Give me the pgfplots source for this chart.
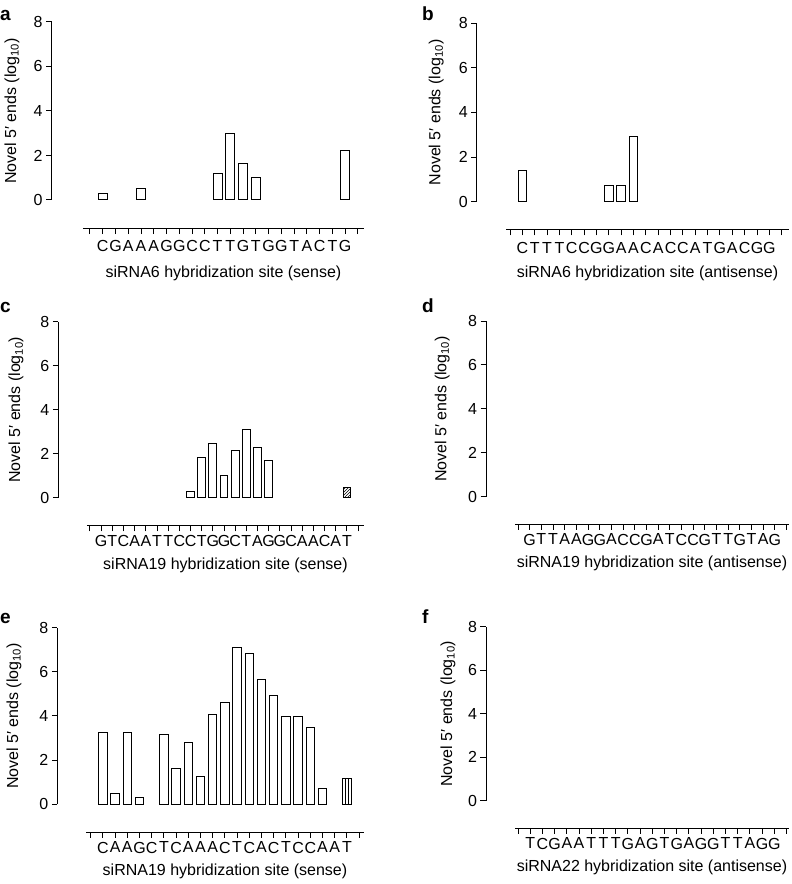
\documentclass[border=0pt]{standalone}
\usepackage{fontspec}
\setmainfont{Liberation Sans}
\usepackage{pgfplots}
\pgfplotsset{compat=1.18}
\usetikzlibrary{patterns}

\pgfplotsset{
  panel/.style={
    axis x line*=bottom, axis y line*=left,
    ymin=0, ymax=8, ytick={0,2,4,6,8},
    tick align=outside, major tick length=5.5pt,
    every tick/.style={black, line width=1pt},
    axis line style={black, line width=1pt},
    clip=false,
    ybar, bar shift=0pt, bar width=0.7,
    /pgf/number format/assume math mode=true,
    ticklabel style={font=\fontsize{16}{19}\selectfont},
    label style={font=\fontsize{16}{19}\selectfont},
    ylabel={Novel 5′ ends (log\textsubscript{10})},
    anchor=origin,
  },
  bars/.style={draw=black, fill=white, line width=1pt},
}
\newcommand\plab[1]{{\fontsize{19}{19}\selectfont\bfseries #1}}

\begin{document}
\begin{tikzpicture}
\useasboundingbox (0pt,0pt) rectangle (792pt,884pt);

% a
\begin{axis}[panel, at={(90pt,684pt)}, x=12.76pt, y=22.25pt,
  xmin=-0.55, xmax=21.47,
  axis x line shift=28.7pt, axis y line shift=31.3pt,
  xtick={0,...,21}, xticklabel style={yshift=-3pt},
  xticklabels={{},C,G,A,A,A,G,G,C,C,T,T,G,T,G,G,T,A,C,T,G,{}},
  xlabel={siRNA6 hybridization site (sense)},
  xlabel style={at={(axis description cs:0.5,-0.41)}, anchor=center},
  ylabel style={at={(axis description cs:-0.2527,0.5)}, anchor=center}]
\addplot[bars] coordinates {(1,0.30) (4,0.50) (10,1.20) (11,2.97) (12,1.62) (13,1.00) (20,2.22)};
\end{axis}

% b
\begin{axis}[panel, at={(510pt,682.3pt)}, x=12.35pt, y=22.3pt,
  xmin=-0.32, xmax=22.59,
  axis x line shift=28.3pt, axis y line shift=29.3pt,
  xtick={0,...,22}, xticklabel style={yshift=-3pt},
  xticklabels={{},C,T,T,T,C,C,G,G,A,A,C,A,C,C,A,T,G,A,C,G,G,{}},
  xlabel={siRNA6 hybridization site (antisense)},
  xlabel style={at={(axis description cs:0.5,-0.40)}, anchor=center},
  ylabel style={at={(axis description cs:-0.247,0.5)}, anchor=center}]
\addplot[bars] coordinates {(1,1.42) (8,0.72) (9,0.72) (10,2.91)};
\end{axis}

% c
\begin{axis}[panel, at={(90pt,386.3pt)}, x=11.17pt, y=22pt,
  xmin=-0.27, xmax=24.53,
  axis x line shift=28.3pt, axis y line shift=28.7pt,
  xtick={0,...,24}, xticklabel style={yshift=-0.5pt},
  xticklabels={{},G,T,C,A,A,T,T,C,C,T,G,G,C,T,A,G,G,C,A,A,C,A,T,{}},
  xlabel={siRNA19 hybridization site (sense)},
  xlabel style={at={(axis description cs:0.5,-0.382)}, anchor=center},
  ylabel style={at={(axis description cs:-0.256,0.5)}, anchor=center}]
\addplot[bars] coordinates {(9,0.29) (10,1.82) (11,2.45) (12,1.00) (13,2.15) (14,3.10) (15,2.29) (16,1.68)};
\addplot[bars, pattern=north east lines] coordinates {(23,0.47)};
\end{axis}

% d
\begin{axis}[panel, at={(518pt,387.3pt)}, x=11.68pt, y=21.96pt,
  xmin=-0.257, xmax=23.2,
  axis x line shift=27.6pt, axis y line shift=29pt,
  xtick={0,...,23}, xticklabel style={yshift=-0.5pt},
  xticklabels={{},G,T,T,A,A,G,G,A,C,C,G,A,T,C,C,G,T,T,G,T,A,G,{}},
  xlabel={siRNA19 hybridization site (antisense)},
  xlabel style={at={(axis description cs:0.5,-0.38)}, anchor=center},
  ylabel style={at={(axis description cs:-0.266,0.5)}, anchor=center}]
\addplot[draw=none, forget plot] coordinates {(0,0)};
\end{axis}

% e
\begin{axis}[panel, at={(90.7pt,79.7pt)}, x=12.2pt, y=22.08pt,
  xmin=-0.385, xmax=22.4,
  axis x line shift=28pt, axis y line shift=28.7pt,
  xtick={0,...,22}, xticklabel style={yshift=-0.5pt},
  xticklabels={{},C,A,A,G,C,T,C,A,A,A,C,T,C,A,C,T,C,C,A,A,T,{}},
  xlabel={siRNA19 hybridization site (sense)},
  xlabel style={at={(axis description cs:0.5,-0.38)}, anchor=center},
  ylabel style={at={(axis description cs:-0.259,0.5)}, anchor=center}]
\addplot[bars] coordinates {(1,3.26) (2,0.50) (3,3.23) (4,0.32) (6,3.15) (7,1.62) (8,2.81) (9,1.25) (10,4.06) (11,4.62) (12,7.12) (13,6.85) (14,5.65) (15,4.94) (16,3.98) (17,3.98) (18,3.49) (19,0.72)};
\addplot[bars, pattern=vertical lines] coordinates {(21,1.19)};
\end{axis}

% f
\begin{axis}[panel, at={(518pt,83.3pt)}, x=12.21pt, y=21.75pt,
  xmin=-0.246, xmax=22.19,
  axis x line shift=27.6pt, axis y line shift=29pt,
  xtick={0,...,22}, xticklabel style={yshift=-0.5pt},
  xticklabels={{},T,C,G,A,A,T,T,T,G,A,G,T,G,A,G,G,T,T,A,G,G,{}},
  xlabel={siRNA22 hybridization site (antisense)},
  xlabel style={at={(axis description cs:0.5,-0.384)}, anchor=center},
  ylabel style={at={(axis description cs:-0.2445,0.5)}, anchor=center}]
\addplot[draw=none, forget plot] coordinates {(0,0)};
\end{axis}

\node[anchor=base west, inner sep=0pt] at (0pt,863pt) {\plab{a}};
\node[anchor=base west, inner sep=0pt] at (422pt,863pt) {\plab{b}};
\node[anchor=base west, inner sep=0pt] at (0pt,571pt) {\plab{c}};
\node[anchor=base west, inner sep=0pt] at (422pt,571pt) {\plab{d}};
\node[anchor=base west, inner sep=0pt] at (0pt,260pt) {\plab{e}};
\node[anchor=base west, inner sep=0pt] at (422pt,260pt) {\plab{f}};
\end{tikzpicture}
\end{document}
